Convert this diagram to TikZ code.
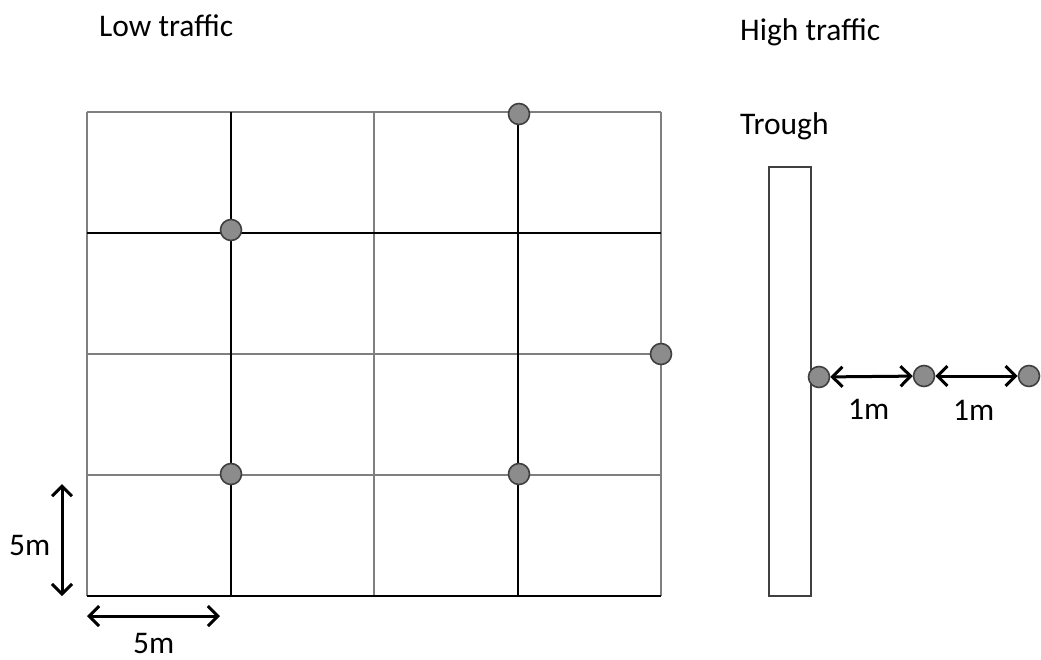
\documentclass[tikz,border=0pt]{standalone}
\usepackage{fontspec}
\setmainfont{Carlito}
\usetikzlibrary{arrows.meta}
\definecolor{gridgrey}{HTML}{7F7F7F}
\definecolor{dotfill}{HTML}{8C8C8C}
\definecolor{dotline}{HTML}{404040}
\tikzset{
  greyline/.style={draw=gridgrey, line width=1.6pt},
  blackline/.style={draw=black, line width=1.4pt},
  dot/.style={circle, draw=dotline, fill=dotfill, line width=1.6pt, minimum size=21pt, inner sep=0pt},
  lbl/.style={font=\fontsize{31.5}{36}\selectfont, inner sep=0pt, anchor=west},
  dim/.style={line width=3pt, {Straight Barb[length=10pt,width=20pt,line width=3pt]}-{Straight Barb[length=10pt,width=20pt,line width=3pt]}},
  trough/.style={draw=black!75, line width=2pt, fill=white}
}
\begin{document}
\begin{tikzpicture}[x=1pt,y=-1pt]
\useasboundingbox (0,0) rectangle (1041,659);
% grid
\foreach \x in {87,374,661} \draw[greyline] (\x,112) -- (\x,596);
\foreach \y in {112,354,475} \draw[greyline] (87,\y) -- (661,\y);
\foreach \x in {231,518} \draw[blackline] (\x,112) -- (\x,596);
\foreach \y in {233,596} \draw[blackline] (87,\y) -- (661,\y);
% dots on grid
\node[dot] (g1) at (519,114) {};
\node[dot] (g2) at (231,230) {};
\node[dot] (g3) at (661,354) {};
\node[dot] (g4) at (231,474) {};
\node[dot] (g5) at (519,474) {};
% scale arrows
\coordinate (va) at (62,484);
\coordinate (vb) at (62,596);
\coordinate (ha) at (87,616);
\coordinate (hb) at (220,616);
\draw[dim] (va) -- (vb);
\draw[dim] (ha) -- (hb);
\node[lbl] (l5v) at (9,545) {5m};
\node[lbl] (l5h) at (133,643) {5m};
% labels
\node[lbl] (low) at (99,26) {Low traffic};
\node[lbl] (high) at (740,32) {High traffic};
\node[lbl] (tr) at (740,126) {Trough};
% trough
\node[trough, minimum width=42pt, minimum height=429pt, inner sep=0pt] (trough) at (789.5,381.5) {};
% right dots
\node[dot] (t1) at (819,377) {};
\node[dot] (t2) at (924,376) {};
\node[dot] (t3) at (1029,376) {};
\draw[dim] (t1) -- (t2);
\draw[dim] (t2) -- (t3);
\node[lbl] (m1) at (848,409) {1m};
\node[lbl] (m2) at (953,410) {1m};
\end{tikzpicture}
\end{document}
